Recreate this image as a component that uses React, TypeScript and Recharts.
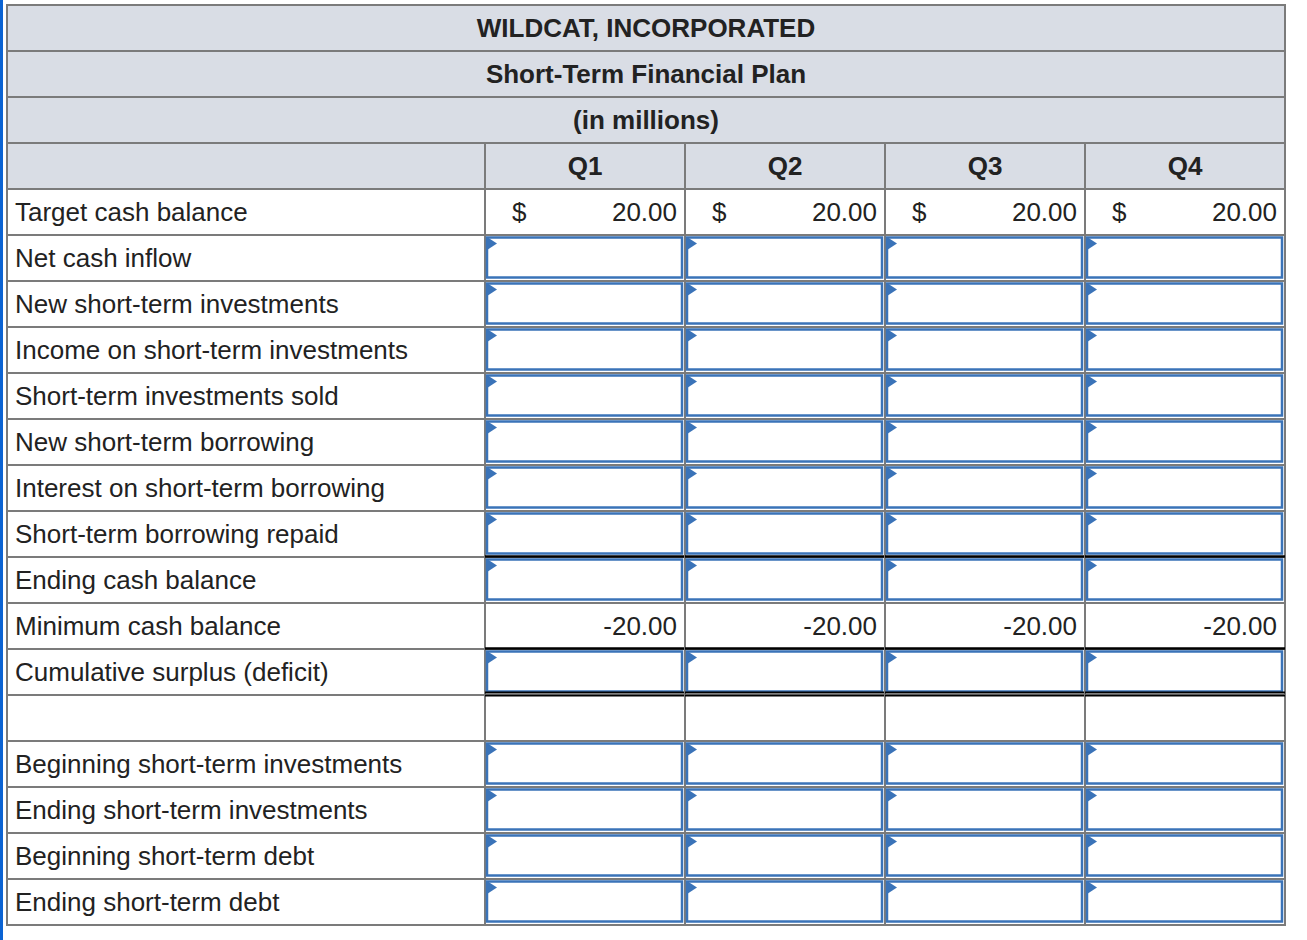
import React from 'react';
import { BarChart, Bar, XAxis, YAxis } from 'recharts';

const titles = ['WILDCAT, INCORPORATED', 'Short-Term Financial Plan', '(in millions)'];
const quarters = ['Q1', 'Q2', 'Q3', 'Q4'];
const rowLabels = [
  'Target cash balance',
  'Net cash inflow',
  'New short-term investments',
  'Income on short-term investments',
  'Short-term investments sold',
  'New short-term borrowing',
  'Interest on short-term borrowing',
  'Short-term borrowing repaid',
  'Ending cash balance',
  'Minimum cash balance',
  'Cumulative surplus (deficit)',
  '',
  'Beginning short-term investments',
  'Ending short-term investments',
  'Beginning short-term debt',
  'Ending short-term debt',
];
const targetCash = [20, 20, 20, 20];
const minimumCash = [-20, -20, -20, -20];
const singleRuleAbove = ['Ending cash balance', 'Cumulative surplus (deficit)'];
const doubleRuleAbove = [''];

// label column is 2.39 quarter-widths wide
const LABEL_UNITS = 2.39;
const FONT = "'Liberation Sans', Arial, Helvetica, sans-serif";
const FS = 26;
const GRID = '#7b7b7b';
const HEAD = '#d9dde5';
const BLUE = '#3a73b8';
const INK = '#222';

type Row = {
  id: string;
  kind: 'title' | 'quarter' | 'value' | 'input' | 'blank';
  text: string;
  values?: number[];
  dollar?: boolean;
  rule?: 'single' | 'double';
  label: number;
  q0: number;
  q1: number;
  q2: number;
  q3: number;
};

const span = { label: LABEL_UNITS, q0: 1, q1: 1, q2: 1, q3: 1 };

const rows: Row[] = [
  ...titles.map((t, i) => ({ id: `t${i}`, kind: 'title' as const, text: t, ...span })),
  { id: 'q', kind: 'quarter', text: '', ...span },
  ...rowLabels.map((t, i) => {
    let kind: Row['kind'] = 'input';
    let values: number[] | undefined;
    let dollar = false;
    if (t === 'Target cash balance') {
      kind = 'value';
      values = targetCash;
      dollar = true;
    } else if (t === 'Minimum cash balance') {
      kind = 'value';
      values = minimumCash;
    } else if (t === '') {
      kind = 'blank';
    }
    const rule = singleRuleAbove.includes(t) ? 'single' : doubleRuleAbove.includes(t) ? 'double' : undefined;
    return { id: `r${i}`, kind, text: t, values, dollar, rule, ...span } as Row;
  }),
];

const box = (p: any) => {
  const x = Math.min(p.x, p.x + p.width);
  const y = Math.min(p.y, p.y + p.height);
  return { x, y, w: Math.abs(p.width), h: Math.abs(p.height) };
};

const baseline = (y: number, h: number) => y + h / 2 + FS * 0.36;

const LabelCell = (props: any) => {
  const { x, y, w, h } = box(props);
  const row: Row = props.payload;
  const mid = baseline(y, h);
  if (row.kind === 'title') {
    const unit = w / LABEL_UNITS;
    const full = w + 4 * unit;
    return (
      <g>
        <rect x={x} y={y} width={full} height={h} fill={HEAD} stroke={GRID} strokeWidth={2} />
        <text x={x + full / 2} y={mid} textAnchor="middle" fontFamily={FONT} fontSize={FS} fontWeight="bold" fill={INK}>
          {row.text}
        </text>
      </g>
    );
  }
  const fill = row.kind === 'quarter' ? HEAD : '#fff';
  return (
    <g>
      <rect x={x} y={y} width={w} height={h} fill={fill} stroke={GRID} strokeWidth={2} />
      {row.text && (
        <text x={x + 8} y={mid} fontFamily={FONT} fontSize={FS} fill={INK}>
          {row.text}
        </text>
      )}
    </g>
  );
};

const makeQuarterCell = (qi: number) => (props: any) => {
  const { x, y, w, h } = box(props);
  const row: Row = props.payload;
  if (row.kind === 'title') return <g />;
  const mid = baseline(y, h);
  const parts: React.ReactNode[] = [];
  if (row.kind === 'quarter') {
    parts.push(<rect key="c" x={x} y={y} width={w} height={h} fill={HEAD} stroke={GRID} strokeWidth={2} />);
    parts.push(
      <text key="t" x={x + w / 2} y={mid} textAnchor="middle" fontFamily={FONT} fontSize={FS} fontWeight="bold" fill={INK}>
        {quarters[qi]}
      </text>
    );
    return <g>{parts}</g>;
  }
  parts.push(<rect key="c" x={x} y={y} width={w} height={h} fill="#fff" stroke={GRID} strokeWidth={2} />);
  if (row.kind === 'value' && row.values) {
    if (row.dollar) {
      parts.push(
        <text key="d" x={x + 27} y={mid} fontFamily={FONT} fontSize={FS} fill={INK}>
          $
        </text>
      );
    }
    parts.push(
      <text key="v" x={x + w - 8} y={mid} textAnchor="end" fontFamily={FONT} fontSize={FS} fill={INK}>
        {row.values[qi].toFixed(2)}
      </text>
    );
  }
  if (row.kind === 'input') {
    parts.push(
      <rect key="b" x={x + 2} y={y + 2.5} width={w - 5} height={h - 6} fill="#fff" stroke={BLUE} strokeWidth={2.5} />
    );
    parts.push(
      <polygon key="tri" points={`${x + 2},${y + 2} ${x + 12},${y + 8.5} ${x + 2},${y + 15}`} fill={BLUE} />
    );
  }
  if (row.rule === 'single') {
    parts.push(<line key="r" x1={x} x2={x + w} y1={y - 0.5} y2={y - 0.5} stroke="#000" strokeWidth={2.5} />);
  }
  if (row.rule === 'double') {
    parts.push(<line key="r1" x1={x} x2={x + w} y1={y - 2.5} y2={y - 2.5} stroke="#000" strokeWidth={1.8} />);
    parts.push(<line key="r2" x1={x} x2={x + w} y1={y + 0.6} y2={y + 0.6} stroke="#000" strokeWidth={1.8} />);
  }
  return <g>{parts}</g>;
};

export default function App() {
  return (
    <div style={{ position: 'absolute', left: 0, top: 0, width: 1307, height: 940, background: '#fff' }}>
      <BarChart
        width={1307}
        height={940}
        data={rows}
        layout="vertical"
        margin={{ top: 5, right: 22, bottom: 15, left: 7 }}
        barCategoryGap={0}
        barGap={0}
      >
        <XAxis type="number" domain={[0, LABEL_UNITS + 4]} hide />
        <YAxis type="category" dataKey="id" hide />
        <Bar dataKey="label" stackId="row" shape={LabelCell} isAnimationActive={false} />
        {quarters.map((q, i) => (
          <Bar key={q} dataKey={`q${i}`} name={q} stackId="row" shape={makeQuarterCell(i)} isAnimationActive={false} />
        ))}
      </BarChart>
      <div style={{ position: 'absolute', left: 0, top: 0, width: 3, height: 940, background: '#0b63d3', zIndex: 2 }} />
    </div>
  );
}
